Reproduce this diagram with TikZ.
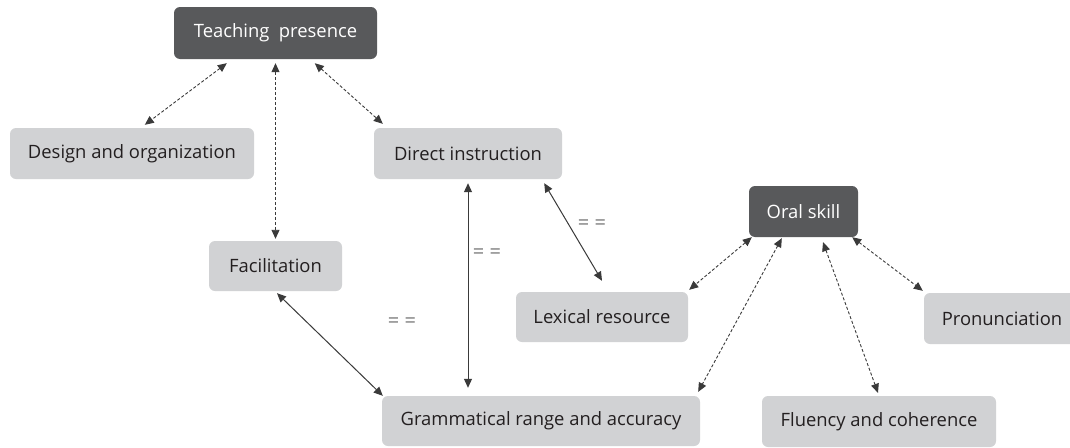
\documentclass[tikz,border=0pt]{standalone}
\usepackage{fontspec}
\setmainfont{Open Sans}
\usetikzlibrary{arrows.meta,calc}
\definecolor{darkbox}{HTML}{58595B}
\definecolor{lightbox}{HTML}{D1D2D4}
\definecolor{boxtext}{HTML}{231F20}
\definecolor{linecol}{HTML}{3A3A3A}
\definecolor{eqcol}{HTML}{7A7A7A}
\tikzset{
  darknode/.style={fill=darkbox, text=white, rounded corners=6pt, inner sep=0pt, font=\fontsize{18.4}{20}\selectfont},
  lightnode/.style={fill=lightbox, text=boxtext, rounded corners=6pt, inner sep=0pt, font=\fontsize{18.4}{20}\selectfont},
  tip/.tip={Triangle[length=9pt,width=8pt]},
  dashlink/.style={draw=linecol, line width=0.9pt, dash pattern=on 3pt off 2pt, {tip}-{tip}},
  solidlink/.style={draw=linecol, line width=1pt, {tip}-{tip}},
  eqlabel/.style={text=eqcol, font=\fontsize{20}{22}\selectfont, inner sep=0pt}
}
\begin{document}
\begin{tikzpicture}[x=1pt,y=-1pt]
\useasboundingbox (0,0) rectangle (1070,447);
\fill[white] (0,0) rectangle (1070,447);
\clip (0,0) rectangle (1070,447);
% nodes
\node[darknode, minimum width=203pt, minimum height=52pt] (tp) at (275.5,33) {Teaching\ \ presence};
\node[lightnode, minimum width=244pt, minimum height=51pt] (design) at (132,153.5) {Design and organization};
\node[lightnode, minimum width=188pt, minimum height=51pt] (direct) at (468,153.5) {Direct instruction};
\node[lightnode, minimum width=133pt, minimum height=50pt] (facil) at (275.5,266) {Facilitation};
\node[lightnode, minimum width=172pt, minimum height=50pt] (lex) at (602,317) {Lexical resource};
\node[darknode, minimum width=109pt, minimum height=51pt] (oral) at (803.5,211.5) {Oral skill};
\node[lightnode, minimum width=156pt, minimum height=51pt] (pron) at (1002,318.5) {Pronunciation};
\node[lightnode, minimum width=318pt, minimum height=50pt] (gram) at (541,421) {Grammatical range and accuracy};
\node[lightnode, minimum width=234pt, minimum height=51pt] (flu) at (879,421.5) {Fluency and coherence};
% labels
\node[eqlabel] (eq1) at (592,225) {= =};
\node[eqlabel] (eq2) at (487,254) {= =};
\node[eqlabel] (eq3) at (402,323) {= =};
% dashed connectors
\draw[dashlink] ($(tp.south west)+(53,4)$) -- ($(design.north west)+(135,-3)$);
\draw[dashlink] ($(tp.south)+(0,4)$) -- ($(facil.north)+(0,-2)$);
\draw[dashlink] ($(tp.south west)+(141,4)$) -- ($(direct.north west)+(9,-4)$);
\draw[dashlink] ($(oral.south west)+(3,0)$) -- ($(lex.north east)+(1,-2)$);
\draw[dashlink] ($(oral.south west)+(33,1)$) -- ($(gram.north east)+(-2,-4)$);
\draw[dashlink] ($(oral.south)+(19.5,5)$) -- ($(flu.north)+(-1,-3)$);
\draw[dashlink] ($(oral.south east)+(-6,0)$) -- ($(pron.north west)+(-1,-2)$);
% solid connectors
\draw[solidlink] ($(direct.south)+(0,4)$) -- ($(gram.north -| direct.south)+(0,-8)$);
\draw[solidlink] ($(direct.south east)+(-18,4)$) -- ($(lex.north)+(0,-11)$);
\draw[solidlink] ($(facil.south)+(1.5,2)$) -- ($(gram.north west)+(1,0)$);
\end{tikzpicture}
\end{document}
